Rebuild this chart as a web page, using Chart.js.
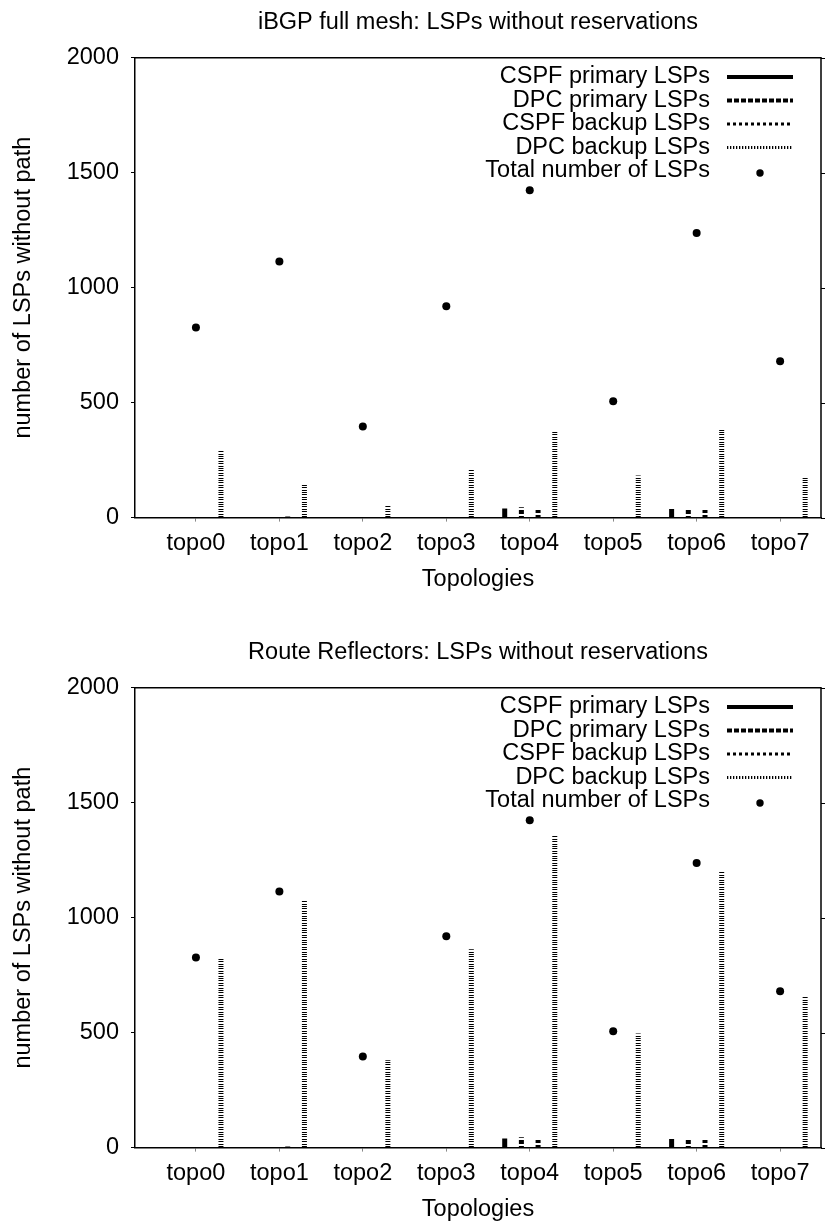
<!DOCTYPE html>
<html><head><meta charset="utf-8">
<script src="https://cdn.jsdelivr.net/npm/chart.js@4/dist/chart.umd.min.js"></script>
<style>
html,body{margin:0;padding:0;background:#fff;overflow:hidden;width:825px;height:1224px}
.wrap{position:absolute;left:0;width:825px;height:630px}
</style></head><body>
<div class="wrap" style="top:0"><canvas id="c1"></canvas></div>
<div class="wrap" style="top:630px"><canvas id="c2"></canvas></div>
<script>
// ---- data ----
const categories = ['topo0','topo1','topo2','topo3','topo4','topo5','topo6','topo7'];
const seriesLabels = ['CSPF primary LSPs','DPC primary LSPs','CSPF backup LSPs','DPC backup LSPs','Total number of LSPs'];
const yTickValues = [0, 500, 1000, 1500, 2000];
const chartTitles = ['iBGP full mesh: LSPs without reservations', 'Route Reflectors: LSPs without reservations'];
const yAxisTitle = 'number of LSPs without path';
const xAxisTitle = 'Topologies';

const meshCspfPrimary = [0, 0, 0, 0, 40, 0, 37, 0];
const meshDpcPrimary  = [0, 0, 0, 0, 45, 0, 37, 0];
const meshCspfBackup  = [0, 5, 0, 0, 35, 0, 35, 0];
const meshDpcBackup   = [290, 149, 53, 210, 376, 183, 382, 175];

const rrCspfPrimary = [0, 0, 0, 0, 40, 0, 37, 0];
const rrDpcPrimary  = [0, 0, 0, 0, 45, 0, 37, 0];
const rrCspfBackup  = [0, 5, 0, 0, 35, 0, 35, 0];
const rrDpcBackup   = [824, 1077, 380, 863, 1359, 496, 1203, 655];

const totalLsps = [827, 1114, 396, 919, 1424, 506, 1238, 680];

// ---- styles ----
const FONT = "'Liberation Sans', Arial, Helvetica, sans-serif";
const FS = 23.5;
Chart.defaults.font.family = FONT;
Chart.defaults.font.size = FS;
Chart.defaults.color = '#000';

function stripePattern(period, blackRows) {
  const c = document.createElement('canvas');
  c.width = 1; c.height = period;
  const g = c.getContext('2d');
  g.fillStyle = '#fff'; g.fillRect(0, 0, 1, period);
  g.fillStyle = '#000';
  blackRows.forEach(r => g.fillRect(0, r, 1, 1));
  return g.createPattern(c, 'repeat');
}
const barFills = [
  '#000',
  stripePattern(6, [0, 1, 2, 3]),
  stripePattern(5, [0, 1, 2]),
  stripePattern(12, [0, 2, 5, 7, 10])
];
const legendStyles = [
  {w: 4, dash: []},
  {w: 4, dash: [5, 2]},
  {w: 3, dash: [3, 3]},
  {w: 3, dash: [1.3, 1.7]}
];

const framePlugin = {
  id: 'frame',
  afterDraw(chart) {
    const {ctx, chartArea: a, scales: {y}} = chart;
    ctx.save();
    ctx.strokeStyle = '#000';
    ctx.lineWidth = 1.5;
    ctx.beginPath();
    ctx.moveTo(a.left, a.top); ctx.lineTo(a.right, a.top); ctx.lineTo(a.right, a.bottom);
    ctx.stroke();
    ctx.lineWidth = 1;
    y.ticks.forEach(t => {
      const py = Math.round(y.getPixelForValue(t.value)) + 0.5;
      ctx.beginPath(); ctx.moveTo(a.right, py); ctx.lineTo(a.right + 4, py); ctx.stroke();
    });
    // legend
    const ds = chart.data.datasets;
    ctx.font = FS + 'px ' + FONT;
    ctx.textAlign = 'right';
    ctx.textBaseline = 'middle';
    ctx.fillStyle = '#000';
    const textRight = 710, x0 = 727, x1 = 793, rowTop = 77, rowH = 23.5;
    ds.forEach((d, i) => {
      const ry = rowTop + rowH * i;
      ctx.fillText(d.label, textRight, ry);
      if (i < legendStyles.length) {
        ctx.lineWidth = legendStyles[i].w;
        ctx.setLineDash(legendStyles[i].dash);
        ctx.lineCap = 'butt';
        ctx.beginPath(); ctx.moveTo(x0, ry); ctx.lineTo(x1, ry); ctx.stroke();
        ctx.setLineDash([]);
      } else {
        ctx.beginPath(); ctx.arc((x0 + x1) / 2, ry + 2, 3.7, 0, Math.PI * 2); ctx.fill();
      }
    });
    ctx.restore();
  }
};

function buildChart(canvasId, title, bars) {
  const toXY = arr => arr.map((v, i) => ({x: i, y: v}));
  const datasets = bars.map((arr, k) => ({
    type: 'bar',
    label: seriesLabels[k],
    data: toXY(arr),
    backgroundColor: barFills[k],
    borderWidth: 0,
    barPercentage: 0.3,
    categoryPercentage: 0.8
  }));
  datasets.push({
    type: 'scatter',
    label: seriesLabels[4],
    data: toXY(totalLsps),
    pointRadius: 4,
    pointHoverRadius: 4,
    pointBackgroundColor: '#000',
    pointBorderWidth: 0,
    showLine: false
  });
  return new Chart(document.getElementById(canvasId), {
    type: 'bar',
    data: {datasets},
    plugins: [framePlugin],
    options: {
      responsive: true,
      maintainAspectRatio: false,
      animation: false,
      events: [],
      layout: {padding: {left: 0, right: 2, top: 0, bottom: 32.4}},
      plugins: {
        legend: {display: false},
        tooltip: {enabled: false},
        title: {
          display: true, text: title, fullSize: false,
          font: {size: FS, weight: 'normal', family: FONT}, color: '#000',
          padding: {top: 8, bottom: 21.5}
        }
      },
      scales: {
        x: {
          type: 'linear', min: -0.73, max: 7.49, offset: false,
          afterBuildTicks: s => { s.ticks = categories.map((_, i) => ({value: i})); },
          afterFit: s => { s.height = 80; },
          ticks: {autoSkip: false, maxRotation: 0, padding: 8, includeBounds: false,
                  callback: v => categories[v] ?? '', font: {size: FS}, color: '#000'},
          grid: {offset: false, drawOnChartArea: false, drawTicks: true, tickLength: 4, tickColor: '#888', tickWidth: 1},
          border: {display: true, color: '#000', width: 1.5},
          title: {display: true, text: xAxisTitle, font: {size: FS}, color: '#000', padding: {top: 0, bottom: 3.5}}
        },
        y: {
          type: 'linear', min: 0, max: 2000,
          afterBuildTicks: s => { s.ticks = yTickValues.map(v => ({value: v})); },
          afterFit: s => { s.width = 135; },
          ticks: {padding: 12, font: {size: FS}, color: '#000', callback: v => String(v)},
          grid: {drawOnChartArea: false, drawTicks: true, tickLength: 4, tickColor: '#000', tickWidth: 1},
          border: {display: true, color: '#000', width: 1.5},
          title: {display: true, text: yAxisTitle, font: {size: FS}, color: '#000', padding: {top: 9, bottom: 0}}
        }
      }
    }
  });
}

buildChart('c1', chartTitles[0], [meshCspfPrimary, meshDpcPrimary, meshCspfBackup, meshDpcBackup]);
buildChart('c2', chartTitles[1], [rrCspfPrimary, rrDpcPrimary, rrCspfBackup, rrDpcBackup]);
</script>
</body></html>
